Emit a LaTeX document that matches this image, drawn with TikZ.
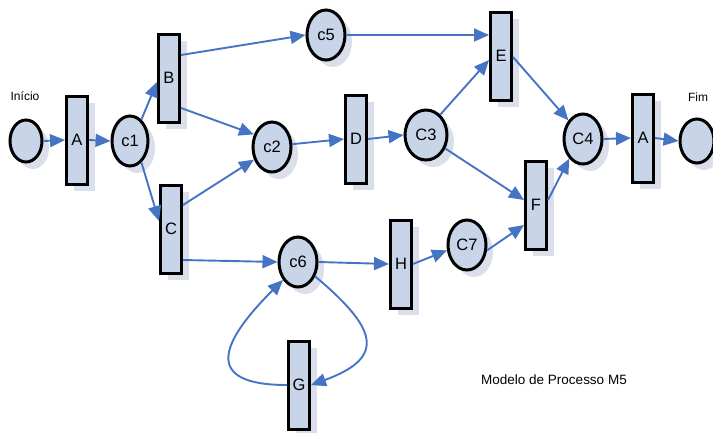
\documentclass[tikz,border=0pt]{standalone}
\usepackage{fontspec}
\setmainfont{Liberation Sans}
\usetikzlibrary{shapes.geometric,arrows.meta,calc,shadows}
\definecolor{arrowblue}{RGB}{70,116,196}
\definecolor{nodefill}{RGB}{200,213,233}
\definecolor{shadowc}{RGB}{218,223,235}
\begin{document}
\begin{tikzpicture}[x=1pt,y=-1pt,
  place/.style={ellipse,draw=black,line width=3pt,fill=nodefill,minimum width=38pt,minimum height=50pt,inner sep=0pt,font=\fontsize{16.5}{16.5}\selectfont,
    drop shadow={shadow xshift=7pt,shadow yshift=-7pt,fill=shadowc,opacity=1}},
  trans/.style={rectangle,draw=black,line width=3pt,fill=nodefill,minimum width=21pt,minimum height=88pt,inner sep=0pt,font=\fontsize{16.5}{16.5}\selectfont,
    drop shadow={shadow xshift=7pt,shadow yshift=-7pt,fill=shadowc,opacity=1}},
  arc/.style={draw=arrowblue,line width=1.9pt,-{Triangle[length=15pt,width=13pt]}},
  lbl/.style={font=\fontsize{12}{12}\selectfont,inner sep=0pt}]
\useasboundingbox (0,0) rectangle (713,432);
% nodes
\node[place,minimum width=32pt,minimum height=42pt] (ini) at (26,141) {};
\node[trans] (A1) at (77,140) {A};
\node[place,minimum width=36pt] (c1) at (130,141) {c1};
\node[trans] (B) at (169,78) {B};
\node[trans] (C) at (171,229) {C};
\node[place] (c5) at (326,35) {c5};
\node[place] (c2) at (272,147) {c2};
\node[trans] (D) at (356,139) {D};
\node[place,minimum width=42pt] (C3) at (426,135) {C3};
\node[trans] (E) at (501,56) {E};
\node[trans] (F) at (536,205) {F};
\node[place] (C4) at (583,139) {C4};
\node[trans] (A2) at (643,138) {A};
\node[place,minimum width=34pt,minimum height=44pt] (fim) at (697,141) {};
\node[place] (c6) at (298,262) {c6};
\node[trans] (H) at (401,264) {H};
\node[place] (C7) at (467,245) {C7};
\node[trans] (G) at (299,385) {G};
% labels
\node[lbl] (tini) at (25,96) {Início};
\node[lbl] (tfim) at (698,97) {Fim};
\node[lbl,font=\fontsize{13.5}{13.5}\selectfont] (title) at (554,380) {Modelo de Processo M5};
% arcs
\draw[arc] (ini.east) -- (A1.west);
\draw[arc] (A1.east) -- (c1.west);
\draw[arc] (c1.62) -- ($(B.west)+(0,4)$);
\draw[arc] (c1.-62) -- ($(C.west)+(0,-8)$);
\draw[arc] ($(B.east)+(0,-23)$) -- (c5.west);
\draw[arc] ($(B.east)+(0,30)$) -- (c2.145);
\draw[arc] ($(C.east)+(0,-24)$) -- (c2.215);
\draw[arc] ($(C.east)+(0,31)$) -- (c6.west);
\draw[arc] (c2.8) -- (D.west);
\draw[arc] (D.east) -- (C3.west);
\draw[arc] (C3.55) -- ($(E.west)+(0,4)$);
\draw[arc] (c5.east) -- ($(E.west)+(0,-21)$);
\draw[arc] (C3.-35) -- ($(F.west)+(0,-5)$);
\draw[arc] ($(E.east)+(0,1)$) -- (C4.128);
\draw[arc] ($(F.east)+(0,-5)$) -- (C4.235);
\draw[arc] (C4.east) -- (A2.west);
\draw[arc] (A2.east) -- (fim.west);
\draw[arc] (c6.east) -- (H.west);
\draw[arc] (H.east) -- (C7.195);
\draw[arc] (C7.-15) -- ($(F.west)+(0,20)$);
\draw[arc] (c6.-40) to[out=-40,in=20,looseness=1.9] (G.east);
\draw[arc] (G.west) to[out=180,in=225,looseness=2.1] (c6.230);
\end{tikzpicture}
\end{document}
